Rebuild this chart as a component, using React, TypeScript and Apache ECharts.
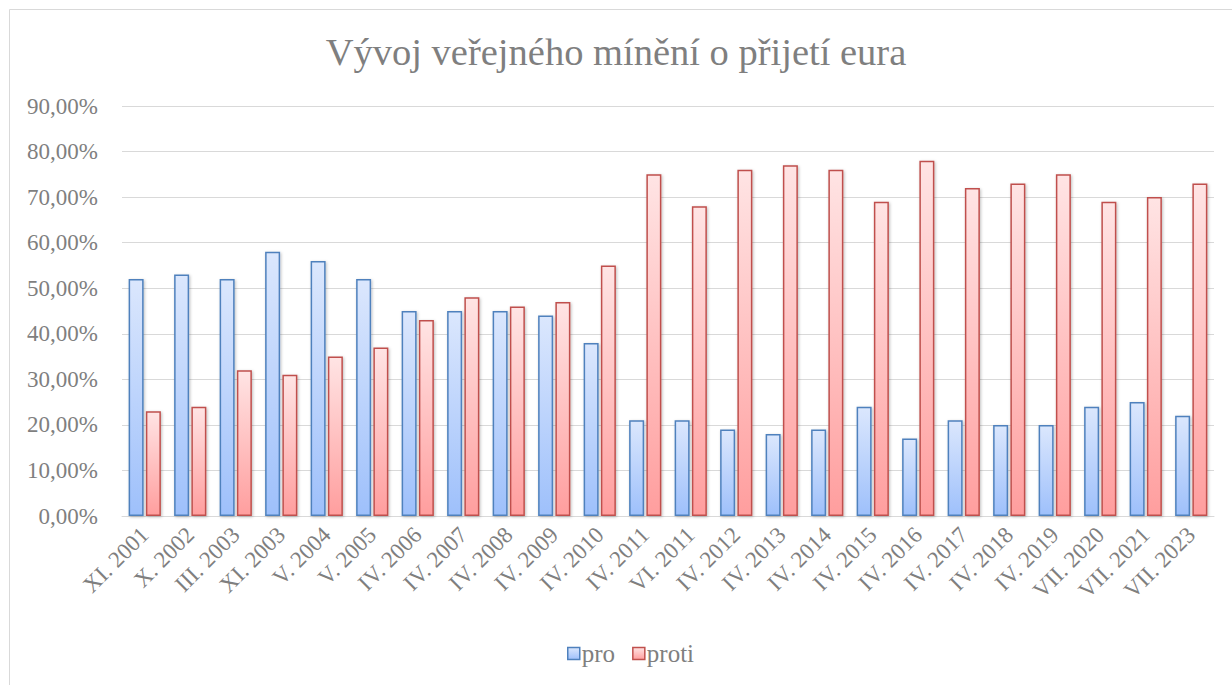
import React, { useEffect, useRef } from "react";
import * as echarts from "echarts";

const categories = [
  "XI. 2001", "X. 2002", "III. 2003", "XI. 2003", "V. 2004", "V. 2005",
  "IV. 2006", "IV. 2007", "IV. 2008", "IV. 2009", "IV. 2010", "IV. 2011",
  "VI. 2011", "IV. 2012", "IV. 2013", "IV. 2014", "IV. 2015", "IV. 2016",
  "IV. 2017", "IV. 2018", "IV. 2019", "VII. 2020", "VII. 2021", "VII. 2023",
];
const proValues = [52, 53, 52, 58, 56, 52, 45, 45, 45, 44, 38, 21, 21, 19, 18, 19, 24, 17, 21, 20, 20, 24, 25, 22];
const protiValues = [23, 24, 32, 31, 35, 37, 43, 48, 46, 47, 55, 75, 68, 76, 77, 76, 69, 78, 72, 73, 75, 69, 70, 73];
const yTicks = [0, 10, 20, 30, 40, 50, 60, 70, 80, 90];

const FONT = "Liberation Serif";
const GREY = "#7f7f7f";

export default function App() {
  const ref = useRef<HTMLDivElement>(null);
  useEffect(() => {
    const chart = echarts.init(ref.current!, null, { renderer: "svg" });
    const grad = (top: string, bottom: string) =>
      new echarts.graphic.LinearGradient(0, 0, 0, 1, [
        { offset: 0, color: top },
        { offset: 1, color: bottom },
      ]);
    chart.setOption({
      animation: false,
      backgroundColor: "#ffffff",
      title: {
        text: "Vývoj veřejného mínění o přijetí eura",
        left: "center",
        top: 27,
        textStyle: { fontFamily: FONT, fontSize: 38.5, fontWeight: "normal", color: GREY },
      },
      graphic: [
        {
          type: "rect",
          shape: { x: 9.5, y: 9.5, width: 1300, height: 800 },
          style: { fill: "none", stroke: "#d9d9d9", lineWidth: 1 },
          silent: true,
        },
      ],
      legend: {
        bottom: 14,
        left: 562,
        icon: "rect",
        itemWidth: 12,
        itemHeight: 12,
        itemGap: 17,
        textStyle: { fontFamily: FONT, fontSize: 25, color: GREY, padding: [0, 0, 0, -3] },
        data: [
          { name: "pro", itemStyle: { color: grad("#dbe7fd", "#9ec0fb"), borderColor: "#4f81bd", borderWidth: 1.5 } },
          { name: "proti", itemStyle: { color: grad("#ffe4e4", "#ff9e9e"), borderColor: "#c0504d", borderWidth: 1.5 } },
        ],
      },
      grid: { left: 122, right: 18, top: 106, bottom: 169, containLabel: false, outerBoundsMode: "none" },
      xAxis: {
        type: "category",
        data: categories,
        axisLine: { show: true, lineStyle: { color: "#d9d9d9", width: 1 } },
        axisTick: { show: false },
        axisLabel: {
          rotate: 45,
          interval: 0,
          margin: 15,
          fontFamily: FONT,
          fontSize: 23,
          color: GREY,
        },
      },
      yAxis: {
        type: "value",
        min: 0,
        max: 90,
        interval: 10,
        axisLine: { show: false },
        axisTick: { show: false },
        splitLine: { lineStyle: { color: "#d9d9d9", width: 1 } },
        axisLabel: {
          margin: 24,
          fontFamily: FONT,
          fontSize: 23,
          color: GREY,
          formatter: (v: number) => (yTicks.includes(v) ? v.toFixed(2).replace(".", ",") + "%" : ""),
        },
      },
      series: [
        {
          name: "pro",
          type: "bar",
          data: proValues,
          barWidth: 15,
          barGap: "15%",
          itemStyle: {
            color: grad("#dbe7fd", "#9ec0fb"),
            borderColor: "#4f81bd",
            borderWidth: 1.5,
            shadowBlur: 3,
            shadowColor: "rgba(0,0,0,0.25)",
            shadowOffsetX: 1,
            shadowOffsetY: 1,
          },
        },
        {
          name: "proti",
          type: "bar",
          data: protiValues,
          barWidth: 15,
          barGap: "15%",
          itemStyle: {
            color: grad("#ffe4e4", "#ff9e9e"),
            borderColor: "#c0504d",
            borderWidth: 1.5,
            shadowBlur: 3,
            shadowColor: "rgba(0,0,0,0.25)",
            shadowOffsetX: 1,
            shadowOffsetY: 1,
          },
        },
      ],
    });
    return () => chart.dispose();
  }, []);
  return (
    <div
      ref={ref}
      style={{ position: "fixed", left: 0, top: 0, width: 1232, height: 685 }}
    />
  );
}
